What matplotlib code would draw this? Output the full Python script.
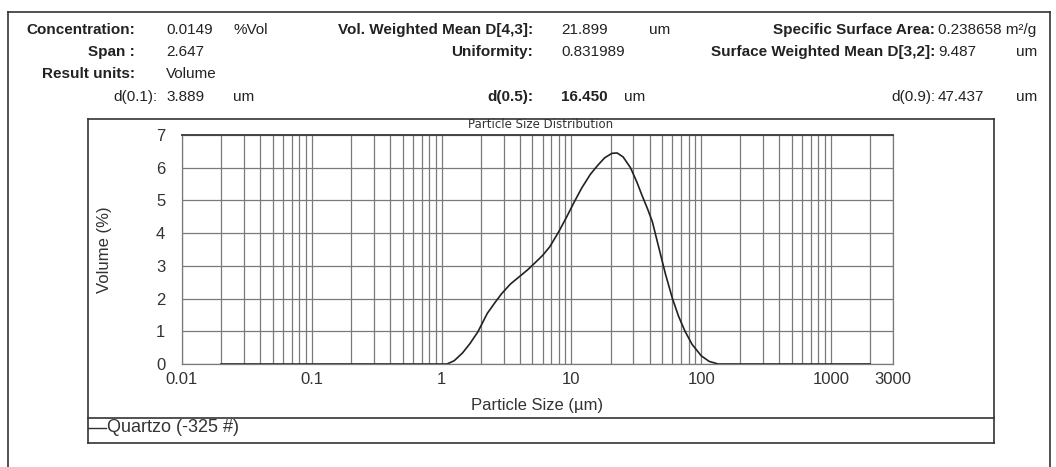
import matplotlib
matplotlib.use("Agg")
import numpy as np
import matplotlib.pyplot as plt
from matplotlib.lines import Line2D

plt.rcParams['font.family'] = ['Liberation Sans', 'DejaVu Sans']

W, H = 1056, 467

# particle size (um) and volume (%)
size = [0.02, 1.0, 1.1, 1.25, 1.45, 1.65, 1.9, 2.25, 2.6, 2.9, 3.4, 4.0, 4.6,
        5.2, 6.0, 6.8, 8.0, 9.2, 10.5, 12, 14, 16, 18, 20.5, 22.5, 25, 28.5,
        32, 35, 38.5, 42, 47.5, 53, 60, 67, 75, 85, 100, 115, 135, 2000]
volume = [0, 0, 0.0, 0.1, 0.34, 0.62, 0.98, 1.55, 1.9, 2.15, 2.45, 2.68, 2.88,
          3.08, 3.32, 3.58, 4.05, 4.5, 4.95, 5.38, 5.8, 6.08, 6.3, 6.44, 6.45,
          6.33, 6.0, 5.55, 5.15, 4.75, 4.35, 3.5, 2.75, 2.0, 1.45, 1.0, 0.6,
          0.25, 0.08, 0.0, 0]

xticks = [0.01, 0.1, 1, 10, 100, 1000, 3000]
xticklabels = ['0.01', '0.1', '1', '10', '100', '1000', '3000']
yticks = [0, 1, 2, 3, 4, 5, 6, 7]

# header: (text, x, y, align, bold)
header = [
    ("Concentration:", 135, 30, 'right', True),
    ("0.0149", 166, 30, 'left', False),
    ("%Vol", 233, 30, 'left', False),
    ("Vol. Weighted Mean D[4,3]:", 533, 30, 'right', True),
    ("21.899", 561, 30, 'left', False),
    ("um", 649, 30, 'left', False),
    ("Specific Surface Area:", 935, 30, 'right', True),
    ("0.238658 m\u00b2/g", 938, 30, 'left', False),
    ("Span :", 135, 52, 'right', True),
    ("2.647", 166, 52, 'left', False),
    ("Uniformity:", 533, 52, 'right', True),
    ("0.831989", 561, 52, 'left', False),
    ("Surface Weighted Mean D[3,2]:", 935, 52, 'right', True),
    ("9.487", 938, 52, 'left', False),
    ("um", 1016, 52, 'left', False),
    ("Result units:", 135, 74, 'right', True),
    ("Volume", 166, 74, 'left', False),
    ("d(0.1):", 158, 97, 'right', False),
    ("3.889", 166, 97, 'left', False),
    ("um", 233, 97, 'left', False),
    ("d(0.5):", 533, 97, 'right', True),
    ("16.450", 561, 97, 'left', True),
    ("um", 624, 97, 'left', False),
    ("d(0.9):", 935, 97, 'right', False),
    ("47.437", 938, 97, 'left', False),
    ("um", 1016, 97, 'left', False),
]


def fx(x):
    return x / W


def fy(y):
    return 1 - y / H


fig = plt.figure(figsize=(W / 100, H / 100), dpi=100)
fig.patch.set_facecolor('white')

# outer frame and chart frame
def box_line(x0, y0, x1, y1, lw=1.2, c='#333333'):
    fig.add_artist(Line2D([fx(x0), fx(x1)], [fy(y0), fy(y1)], lw=lw, color=c))

box_line(8, 12, 1050, 12)
box_line(8, 12, 8, 467)
box_line(1050, 12, 1050, 467)
box_line(88, 119, 994, 119)
box_line(88, 119, 88, 443)
box_line(994, 119, 994, 443)
box_line(88, 443, 994, 443)
box_line(88, 418, 994, 418)

for txt, x, y, ha, bold in header:
    fig.text(fx(x), fy(y), txt, ha=ha, va='center', fontsize=11,
             fontweight='bold' if bold else 'normal', color='#222222')

ax = fig.add_axes([fx(182), fy(364), fx(893) - fx(182), fy(135) - fy(364)])
ax.plot(size, volume, color='#222222', lw=1.2)
ax.set_xscale('log')
ax.set_xlim(0.01, 3000)
ax.set_ylim(0, 7)
ax.set_xticks(xticks)
ax.set_xticklabels(xticklabels)
ax.set_yticks(yticks)
ax.xaxis.set_minor_locator(matplotlib.ticker.LogLocator(base=10, subs=np.arange(2, 10), numticks=20))
ax.xaxis.set_minor_formatter(matplotlib.ticker.NullFormatter())
ax.grid(True, which='major', color='#7a7a7a', lw=0.9)
ax.grid(True, which='minor', axis='x', color='#7a7a7a', lw=0.9)
ax.tick_params(which='both', length=0, labelsize=12, colors='#333333')
ax.tick_params(axis='x', pad=6)
ax.tick_params(axis='y', pad=12)
for s in ax.spines.values():
    s.set_color('#7a7a7a')
    s.set_linewidth(0.9)
ax.spines['top'].set_color('#444444')
ax.spines['top'].set_linewidth(1.4)

ax.set_xlabel('Particle Size (\u00b5m)', fontsize=12, color='#333333', labelpad=8)
ax.set_ylabel('Volume (%)', fontsize=12, color='#333333')
ax.yaxis.set_label_coords(-0.098, 0.5)
fig.text(fx(541), fy(125), 'Particle Size Distribution', ha='center', va='center',
         fontsize=8.5, color='#333333', family='DejaVu Sans')

# legend entry
box_line(88, 428, 106, 428, lw=1.0)
fig.text(fx(107), fy(428), 'Quartzo (-325 #)', ha='left', va='center',
         fontsize=13, color='#333333')

fig.savefig('out.png', dpi=100)
